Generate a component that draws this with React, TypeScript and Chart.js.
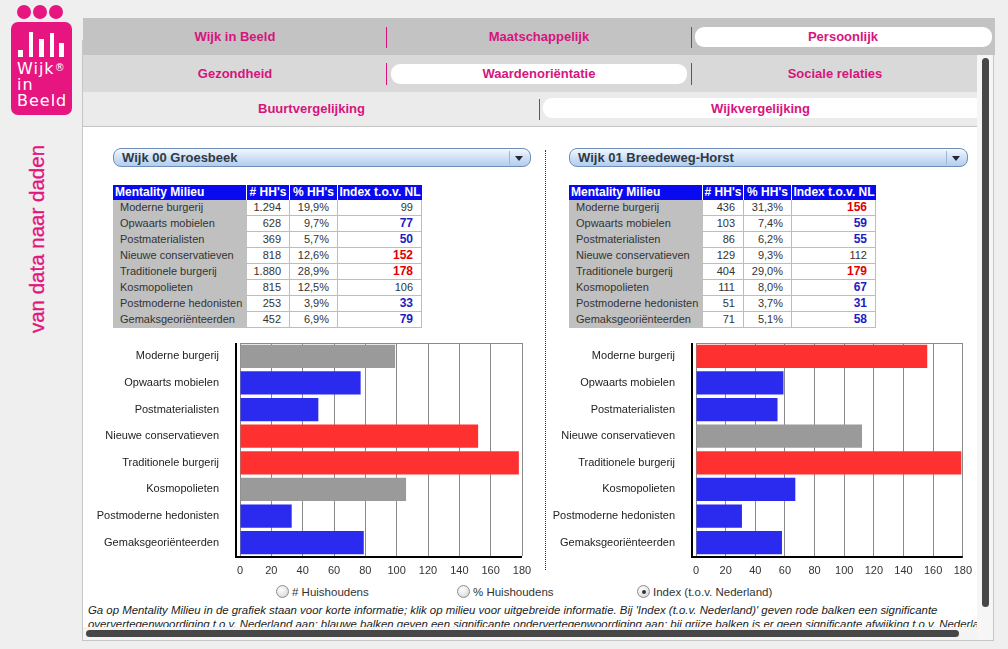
import React, { useEffect, useRef } from "react";
import { Chart, registerables } from "chart.js";
Chart.register(...registerables);

// ---------- data ----------
const categories = [
  "Moderne burgerij",
  "Opwaarts mobielen",
  "Postmaterialisten",
  "Nieuwe conservatieven",
  "Traditionele burgerij",
  "Kosmopolieten",
  "Postmoderne hedonisten",
  "Gemaksgeoriënteerden",
];
const leftTitle = "Wijk 00 Groesbeek";
const leftHouseholds = [1294, 628, 369, 818, 1880, 815, 253, 452];
const leftShares = [19.9, 9.7, 5.7, 12.6, 28.9, 12.5, 3.9, 6.9];
const leftIndex = [99, 77, 50, 152, 178, 106, 33, 79];
const leftSignificance = ["g", "b", "b", "r", "r", "g", "b", "b"];

const rightTitle = "Wijk 01 Breedeweg-Horst";
const rightHouseholds = [436, 103, 86, 129, 404, 111, 51, 71];
const rightShares = [31.3, 7.4, 6.2, 9.3, 29.0, 8.0, 3.7, 5.1];
const rightIndex = [156, 59, 55, 112, 179, 67, 31, 58];
const rightSignificance = ["r", "b", "b", "g", "r", "b", "b", "b"];

const xTicks = [0, 20, 40, 60, 80, 100, 120, 140, 160, 180];
const tableHeaders = ["Mentality Milieu", "# HH's", "% HH's", "Index t.o.v. NL"];
const topTabs = ["Wijk in Beeld", "Maatschappelijk", "Persoonlijk"];
const subTabs = ["Gezondheid", "Waardenoriëntatie", "Sociale relaties"];
const compareTabs = ["Buurtvergelijking", "Wijkvergelijking"];
const radioOptions = ["# Huishoudens", "% Huishoudens", "Index (t.o.v. Nederland)"];
const infoLine1 =
  "Ga op Mentality Milieu in de grafiek staan voor korte informatie; klik op milieu voor uitgebreide informatie. Bij 'Index (t.o.v. Nederland)' geven rode balken een significante";
const infoLine2 =
  "oververtegenwoordiging t.o.v. Nederland aan; blauwe balken geven een significante ondervertegenwoordiging aan; bij grijze balken is er geen significante afwijking t.o.v. Nederland";

// ---------- styling ----------
const FONT = '"Liberation Sans", Arial, sans-serif';
const PINK = "#d7147e";
const BAR_COLORS: Record<string, string> = { r: "#ff3030", b: "#2b2bef", g: "#9a9a9a" };
const INDEX_COLORS: Record<string, string> = { r: "#e00000", b: "#1c1cc4", g: "#333333" };

function fmtCount(v: number): string {
  const s = String(v);
  return s.length > 3 ? s.slice(0, s.length - 3) + "." + s.slice(s.length - 3) : s;
}
function fmtShare(v: number): string {
  return v.toFixed(1).replace(".", ",") + "%";
}

const frameLinesPlugin = {
  id: "frameLines",
  beforeDatasetsDraw(chart: any) {
    const { ctx, chartArea } = chart;
    ctx.save();
    ctx.strokeStyle = "#8a8a8a";
    ctx.lineWidth = 1;
    ctx.beginPath();
    ctx.moveTo(chartArea.left, Math.round(chartArea.top) + 0.5);
    ctx.lineTo(chartArea.right, Math.round(chartArea.top) + 0.5);
    ctx.stroke();
    // black axis line drawn a few pixels left of the zero line, as in the source
    ctx.strokeStyle = "#000";
    ctx.lineWidth = 2;
    ctx.beginPath();
    ctx.moveTo(chartArea.left - 4, chartArea.top);
    ctx.lineTo(chartArea.left - 4, chartArea.bottom + 1);
    ctx.lineTo(chartArea.right, chartArea.bottom + 1);
    ctx.stroke();
    ctx.restore();
  },
};

type ChartProps = {
  values: number[];
  significance: string[];
  left: number;
  top: number;
  width: number;
  height: number;
  yWidth: number;
  padRight: number;
  padTop: number;
  xHeight: number;
};

function IndexChart(p: ChartProps) {
  const ref = useRef<HTMLCanvasElement | null>(null);
  useEffect(() => {
    if (!ref.current) return;
    const chart = new Chart(ref.current, {
      type: "bar",
      data: {
        labels: categories,
        datasets: [
          {
            data: p.values,
            backgroundColor: p.significance.map((s) => BAR_COLORS[s]),
            borderWidth: 0,
            barPercentage: 0.87,
            categoryPercentage: 1,
          },
        ],
      },
      options: {
        indexAxis: "y",
        animation: false,
        responsive: false,
        maintainAspectRatio: false,
        layout: { padding: { top: p.padTop, right: p.padRight, left: 0, bottom: 0 } },
        plugins: { legend: { display: false }, tooltip: { enabled: false } },
        scales: {
          x: {
            min: 0,
            max: 180,
            afterBuildTicks: (s: any) => {
              s.ticks = xTicks.map((v) => ({ value: v }));
            },
            afterFit: (s: any) => {
              s.height = p.xHeight;
            },
            grid: { color: "#8a8a8a", lineWidth: 1, drawTicks: false },
            border: { display: false },
            ticks: { color: "#333", font: { family: FONT, size: 11 }, padding: 8, autoSkip: false, maxRotation: 0 },
          },
          y: {
            afterFit: (s: any) => {
              s.width = p.yWidth;
              s.paddingTop = 0;
              s.paddingBottom = 0;
            },
            grid: { display: false },
            border: { display: false },
            ticks: { color: "#222", font: { family: FONT, size: 11 }, padding: 13 },
          },
        },
      } as any,
      plugins: [frameLinesPlugin],
    });
    return () => chart.destroy();
  }, []);
  return (
    <canvas
      ref={ref}
      width={p.width}
      height={p.height}
      style={{ position: "absolute", left: p.left, top: p.top, width: p.width, height: p.height }}
    />
  );
}

type TableProps = {
  left: number;
  top: number;
  cols: number[];
  households: number[];
  shares: number[];
  index: number[];
  significance: string[];
};

function MilieuTable(t: TableProps) {
  const cells: React.ReactNode[] = [];
  const xs: number[] = [0];
  t.cols.forEach((w, i) => xs.push(xs[i] + w));
  const headH = 15;
  const rowH = 16;
  tableHeaders.forEach((h, i) => {
    cells.push(
      <div
        key={"h" + i}
        style={{
          position: "absolute",
          left: xs[i],
          top: 0,
          width: t.cols[i] - (i < 3 ? 1 : 0),
          height: headH,
          background: "#0a0af0",
          color: "#fff",
          fontWeight: "bold",
          fontSize: 12,
          lineHeight: headH + "px",
          textAlign: i === 0 ? "left" : "center",
          paddingLeft: i === 0 ? 2 : 0,
          boxSizing: "border-box",
          whiteSpace: "nowrap",
          overflow: "hidden",
        }}
      >
        {h}
      </div>
    );
  });
  categories.forEach((c, r) => {
    const y = headH + r * rowH;
    const vals = [c, fmtCount(t.households[r]), fmtShare(t.shares[r]), String(t.index[r])];
    vals.forEach((v, i) => {
      const isIdx = i === 3;
      const sig = t.significance[r];
      cells.push(
        <div
          key={"c" + r + "-" + i}
          style={{
            position: "absolute",
            left: xs[i],
            top: y,
            width: t.cols[i],
            height: rowH,
            background: i === 0 ? "#c0c0c0" : "#fff",
            borderBottom: i === 0 ? "none" : "1px solid #bdbdbd",
            borderRight: i === 0 ? "none" : "1px solid #bdbdbd",
            boxSizing: "border-box",
            color: isIdx ? INDEX_COLORS[sig] : "#333",
            fontWeight: isIdx && sig !== "g" ? "bold" : "normal",
            fontSize: isIdx && sig !== "g" ? 12 : 11,
            lineHeight: rowH - 1 + "px",
            textAlign: i === 0 ? "left" : "right",
            paddingLeft: i === 0 ? 7 : 0,
            paddingRight: i === 0 ? 0 : 8,
            whiteSpace: "nowrap",
          }}
        >
          {v}
        </div>
      );
    });
  });
  return (
    <div style={{ position: "absolute", left: t.left, top: t.top, width: xs[4], height: headH + 8 * rowH }}>
      {cells}
    </div>
  );
}

function Dropdown({ left, top, width, label }: { left: number; top: number; width: number; label: string }) {
  return (
    <div
      style={{
        position: "absolute",
        left,
        top,
        width,
        height: 19,
        boxSizing: "border-box",
        borderRadius: 8,
        border: "1px solid #6f8fb8",
        background: "linear-gradient(#f4f8fe 0%, #d3e3f7 45%, #b2cdee 100%)",
      }}
    >
      <div
        style={{
          position: "absolute",
          left: 8,
          top: 0,
          lineHeight: "17px",
          fontSize: 13,
          fontWeight: "bold",
          color: "#2f3a46",
          whiteSpace: "nowrap",
        }}
      >
        {label}
      </div>
      <div style={{ position: "absolute", right: 20, top: 2, width: 1, height: 13, background: "#9fb6d3" }} />
      <div
        style={{
          position: "absolute",
          right: 7,
          top: 7,
          width: 0,
          height: 0,
          borderLeft: "4px solid transparent",
          borderRight: "4px solid transparent",
          borderTop: "5px solid #1e2a3a",
        }}
      />
    </div>
  );
}

function Radio({ left, top, label, checked }: { left: number; top: number; label: string; checked: boolean }) {
  return (
    <div style={{ position: "absolute", left, top, height: 14, whiteSpace: "nowrap" }}>
      <div
        style={{
          position: "absolute",
          left: 0,
          top: 0,
          width: 13,
          height: 13,
          boxSizing: "border-box",
          borderRadius: "50%",
          border: "1px solid #8e8e8e",
          background: "radial-gradient(circle at 40% 35%, #ffffff 0%, #e6e6e6 55%, #c4c4c4 100%)",
        }}
      >
        {checked && (
          <div
            style={{
              position: "absolute",
              left: 3.5,
              top: 3.5,
              width: 4,
              height: 4,
              borderRadius: "50%",
              background: "#333",
            }}
          />
        )}
      </div>
      <div style={{ position: "absolute", left: 16, top: 0, fontSize: 11.5, lineHeight: "14px", color: "#333" }}>
        {label}
      </div>
    </div>
  );
}

function TabLabel({ left, width, top, text }: { left: number; width: number; top: number; text: string }) {
  return (
    <div
      style={{
        position: "absolute",
        left,
        width,
        top,
        textAlign: "center",
        color: PINK,
        fontWeight: "bold",
        fontSize: 13,
        lineHeight: "20px",
        whiteSpace: "nowrap",
      }}
    >
      {text}
    </div>
  );
}

function Logo() {
  const bars = [
    { x: 18, top: 50, w: 5 },
    { x: 29, top: 32, w: 4 },
    { x: 39, top: 39, w: 5 },
    { x: 50, top: 33, w: 4 },
    { x: 59, top: 43, w: 5 },
  ];
  return (
    <>
      {[24, 40, 56].map((cx) => (
        <div
          key={cx}
          style={{
            position: "absolute",
            left: cx - 7,
            top: 5,
            width: 14,
            height: 14,
            borderRadius: "50%",
            background: "#e6157f",
          }}
        />
      ))}
      <div
        style={{
          position: "absolute",
          left: 11,
          top: 22,
          width: 61,
          height: 93,
          borderRadius: 7,
          background: "#e6157f",
        }}
      />
      {bars.map((b, i) => (
        <div
          key={i}
          style={{ position: "absolute", left: b.x, top: b.top, width: b.w, height: 57 - b.top, background: "#fff" }}
        />
      ))}
      <div
        style={{
          position: "absolute",
          left: 17,
          top: 61,
          color: "#fff",
          fontFamily: '"DejaVu Sans", sans-serif',
          fontSize: 16,
          lineHeight: "16px",
          letterSpacing: 1,
          whiteSpace: "nowrap",
        }}
      >
        Wijk<sup style={{ fontSize: 10, verticalAlign: "top", position: "relative", top: -1, letterSpacing: 0 }}>®</sup>
        <br />
        in
        <br />
        Beeld
      </div>
      <div
        style={{
          position: "absolute",
          left: 37,
          top: 239,
          transform: "translate(-50%, -50%) rotate(-90deg)",
          color: "#e2157f",
          fontFamily: FONT,
          fontSize: 20.5,
          whiteSpace: "nowrap",
          lineHeight: "22px",
          WebkitTextStroke: "0.3px #e2157f",
        }}
      >
        van data naar daden
      </div>
    </>
  );
}

export default function App() {
  return (
    <div
      style={{
        position: "absolute",
        left: 0,
        top: 0,
        width: 1008,
        height: 649,
        overflow: "hidden",
        background: "#efefef",
        fontFamily: FONT,
      }}
    >
      <Logo />

      {/* panel border */}
      <div style={{ position: "absolute", left: 82, top: 40, width: 1, height: 601, background: "#c6c6c6" }} />
      <div style={{ position: "absolute", left: 82, top: 640, width: 912, height: 1, background: "#c6c6c6" }} />
      <div style={{ position: "absolute", left: 993, top: 55, width: 1, height: 586, background: "#c6c6c6" }} />

      {/* tab rows */}
      <div style={{ position: "absolute", left: 83, top: 18, width: 912, height: 37, background: "#c3c3c3" }} />
      <div style={{ position: "absolute", left: 83, top: 55, width: 895, height: 37, background: "#d9d9d9" }} />
      <div style={{ position: "absolute", left: 83, top: 92, width: 895, height: 35, background: "#ebebeb" }} />
      <div style={{ position: "absolute", left: 83, top: 126, width: 895, height: 1, background: "#c4c4c4" }} />

      <div style={{ position: "absolute", left: 695, top: 27, width: 297, height: 20, borderRadius: 9, background: "#fff" }} />
      <div style={{ position: "absolute", left: 391, top: 64, width: 296, height: 20, borderRadius: 9, background: "#fff" }} />
      <div
        style={{
          position: "absolute",
          left: 543,
          top: 98,
          width: 435,
          height: 20,
          borderRadius: "9px 0 0 9px",
          background: "#fff",
        }}
      />

      {[386, 691].map((x) => (
        <div key={"s1" + x} style={{ position: "absolute", left: x, top: 27, width: 1, height: 21, background: PINK }} />
      ))}
      {[386, 691].map((x) => (
        <div key={"s2" + x} style={{ position: "absolute", left: x, top: 63, width: 1, height: 22, background: PINK }} />
      ))}
      <div style={{ position: "absolute", left: 539, top: 99, width: 1, height: 21, background: PINK }} />

      {topTabs.map((t, i) => (
        <TabLabel key={t} left={[84, 387, 692][i]} width={[302, 304, 302][i]} top={27} text={t} />
      ))}
      {subTabs.map((t, i) => (
        <TabLabel key={t} left={[84, 387, 692][i]} width={[302, 304, 286][i]} top={64} text={t} />
      ))}
      {compareTabs.map((t, i) => (
        <TabLabel key={t} left={[84, 543][i]} width={[455, 435][i]} top={99} text={t} />
      ))}

      {/* content area */}
      <div style={{ position: "absolute", left: 83, top: 127, width: 894, height: 500, background: "#fff" }} />

      <Dropdown left={113} top={148} width={418} label={leftTitle} />
      <Dropdown left={569} top={148} width={399} label={rightTitle} />

      <div
        style={{
          position: "absolute",
          left: 545,
          top: 150,
          width: 0,
          height: 420,
          borderLeft: "1px dotted #333",
        }}
      />

      <MilieuTable
        left={113}
        top={185}
        cols={[134, 43, 48, 84]}
        households={leftHouseholds}
        shares={leftShares}
        index={leftIndex}
        significance={leftSignificance}
      />
      <MilieuTable
        left={569}
        top={185}
        cols={[134, 41, 48, 84]}
        households={rightHouseholds}
        shares={rightShares}
        index={rightIndex}
        significance={rightSignificance}
      />

      <IndexChart
        values={leftIndex}
        significance={leftSignificance}
        left={90}
        top={330}
        width={450}
        height={250}
        yWidth={150}
        padRight={18}
        padTop={13}
        xHeight={24}
      />
      <IndexChart
        values={rightIndex}
        significance={rightSignificance}
        left={550}
        top={330}
        width={430}
        height={250}
        yWidth={146}
        padRight={17}
        padTop={13}
        xHeight={24}
      />

      {radioOptions.map((r, i) => (
        <Radio key={r} left={[276, 457, 637][i]} top={585} label={r} checked={i === 2} />
      ))}

      <div style={{ position: "absolute", left: 88, top: 603, width: 889, height: 24, overflow: "hidden" }}>
        <div
          style={{
            fontStyle: "italic",
            fontSize: 11.4,
            lineHeight: "14px",
            color: "#222",
            whiteSpace: "nowrap",
          }}
        >
          {infoLine1}
          <br />
          {infoLine2}
        </div>
      </div>

      {/* scrollbars */}
      <div style={{ position: "absolute", left: 977, top: 55, width: 16, height: 585, background: "#f6f6f6" }} />
      <div style={{ position: "absolute", left: 982, top: 58, width: 7, height: 549, borderRadius: 4, background: "#474747" }} />
      <div style={{ position: "absolute", left: 83, top: 627, width: 894, height: 13, background: "#f4f4f4" }} />
      <div style={{ position: "absolute", left: 86, top: 630, width: 873, height: 7, borderRadius: 4, background: "#474747" }} />
    </div>
  );
}
